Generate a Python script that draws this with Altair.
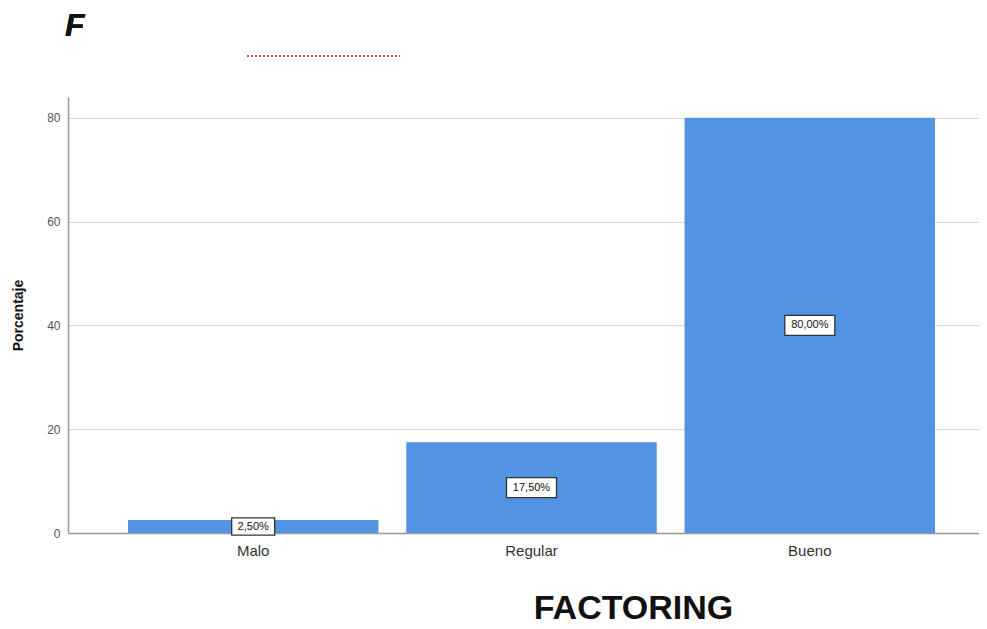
import altair as alt
import pandas as pd

categories = ["Malo", "Regular", "Bueno"]
values = [2.5, 17.5, 80.0]
labels = ["2,50%", "17,50%", "80,00%"]
y_ticks = [0, 20, 40, 60, 80]

df = pd.DataFrame({"cat": categories, "val": values, "lab": labels})
df["mid"] = df["val"] / 2
df["box"] = [(7 * len(s) + 8) ** 2 for s in labels]

FONT = "Liberation Sans"
BAR = "#5293E3"

x_scale = alt.Scale(paddingInner=0.1, paddingOuter=0.1867, align=0.577)

x = alt.X("cat:N", sort=categories, scale=x_scale,
          axis=alt.Axis(title="FACTORING", labelAngle=0, labelFontSize=15,
                        labelColor="#333333", labelFont=FONT, labelPadding=10,
                        tickSize=0, domainColor="#999999", domainWidth=1.5,
                        titleFont=FONT, titleFontSize=34, titleFontWeight="bold",
                        titleColor="#111111", titleX=565, titleY=85,
                        titleBaseline="alphabetic", titleAnchor="middle"))

y_scale = alt.Scale(domain=[0, 84], nice=False)

bars = alt.Chart(df).mark_bar(color=BAR).encode(
    x=x,
    y=alt.Y("val:Q", scale=y_scale,
            axis=alt.Axis(title="Porcentaje", values=y_ticks, tickSize=0,
                          labelPadding=8, labelFontSize=12, labelColor="#555555",
                          labelFont=FONT, gridColor="#d4d4d4", gridWidth=1.2,
                          domainColor="#999999", domainWidth=1.5,
                          titleFont=FONT, titleFontSize=14, titleFontWeight="bold",
                          titleColor="#111111", titleX=-50, titleY=218,
                          titleAngle=-90, titleBaseline="middle",
                          titleAnchor="middle")),
)

boxes = alt.Chart(df).mark_point(
    shape="M-1,-0.4L1,-0.4L1,0.4L-1,0.4Z", filled=True, fill="white",
    fillOpacity=1, stroke="#333333", strokeWidth=1.3, opacity=1,
).encode(
    x=alt.X("cat:N", sort=categories, scale=x_scale),
    y=alt.Y("mid:Q", scale=y_scale),
    size=alt.Size("box:Q", scale=None),
)

texts = alt.Chart(df).mark_text(font=FONT, fontSize=11, color="#111111").encode(
    x=alt.X("cat:N", sort=categories, scale=x_scale),
    y=alt.Y("mid:Q", scale=y_scale),
    text="lab:N",
)

letter = alt.Chart(df).mark_text(
    text="F", font=FONT, fontSize=32, fontWeight="bold", fontStyle="italic",
    color="#111111", align="left", baseline="alphabetic",
).encode(x=alt.value(-3), y=alt.value(-61))

artifact = alt.Chart(df).mark_rule(color="#e03030", strokeDash=[2, 2],
                                   strokeWidth=1).encode(
    x=alt.value(179), x2=alt.value(332), y=alt.value(-41),
)

chart = alt.layer(bars, boxes, texts, letter, artifact).properties(
    width=911, height=436,
    autosize=alt.AutoSizeParams(type="none"),
    padding={"left": 60, "top": 89, "right": 0, "bottom": 88},
).configure_view(stroke=None).configure_axisX(grid=False)

chart.save("out.html", embed_options={"renderer": "svg", "actions": False})
